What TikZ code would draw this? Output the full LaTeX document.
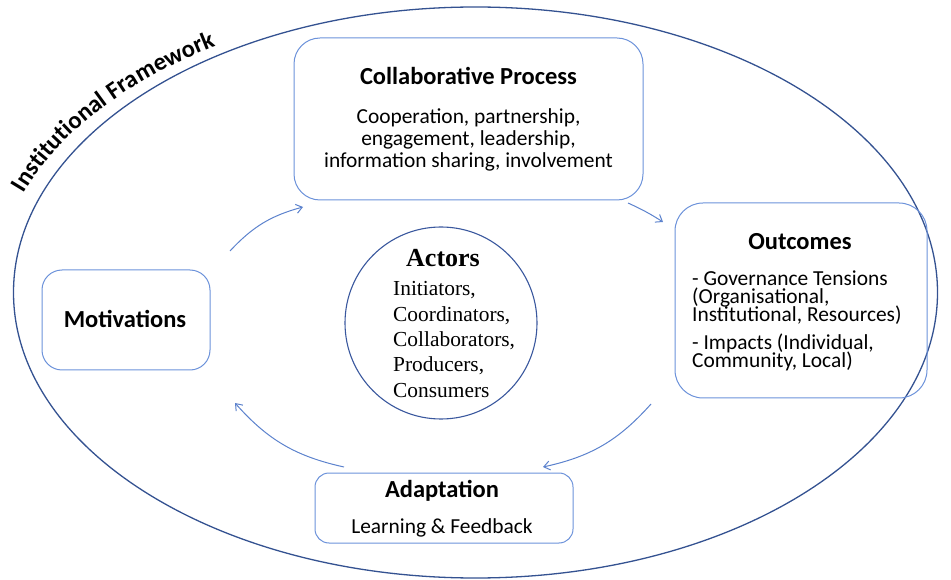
\documentclass[tikz,border=0pt]{standalone}
\usepackage{fontspec}
\setmainfont{Carlito}
\newfontfamily\serifface{Liberation Serif}
\usetikzlibrary{arrows.meta,decorations.text}
\newcommand\tightlines{\lineskiplimit=-30pt\relax}
\definecolor{framecol}{RGB}{52,82,145}
\definecolor{boxcol}{RGB}{108,146,218}
\definecolor{arrowcol}{RGB}{92,130,205}
\definecolor{circcol}{RGB}{58,88,158}
\tikzset{
  stagebox/.style={draw=boxcol, line width=1pt, rectangle, inner sep=0pt},
  titletext/.style={font=\fontsize{24.5}{26}\selectfont\bfseries, inner sep=0pt, anchor=base},
  bodytext/.style={font=\fontsize{21.4}{22}\selectfont, inner sep=0pt, align=center},
  flow/.style={draw=arrowcol, line width=1pt, -{Straight Barb[length=6pt,width=9pt]}},
}
\begin{document}
\begin{tikzpicture}[x=1pt,y=1pt]
\useasboundingbox (0,0) rectangle (951,579);

% outer institutional frame
\draw[framecol, line width=1.3pt] (475.5,286.5) ellipse [x radius=462, y radius=285.5];
\path[decorate, decoration={text along path, text align=center,
  text={|\fontsize{24.5}{26}\selectfont\bfseries|Institutional Framework}}]
  (475.5,286.5) ++(165.5:480 and 293) arc [start angle=165.5, end angle=119, x radius=480, y radius=293];

% collaborative process
\node[stagebox, rounded corners=26pt, minimum width=349pt, minimum height=162pt] (collab) at (468.5,460) {};
\node[titletext] (collabT) at (468.5,494) {Collaborative Process};
\node[bodytext] (collabB) at (468.5,439) {Cooperation, partnership,\\engagement, leadership,\\information sharing, involvement};

% outcomes
\node[stagebox, rounded corners=28pt, minimum width=252pt, minimum height=195pt] (outc) at (801,278.5) {};
\node[titletext] (outcT) at (800,329) {Outcomes};
\node[bodytext, align=left, anchor=west, font=\fontsize{21.4}{18.3}\selectfont\tightlines] (outcB) at (692,258)
  {- Governance Tensions\\(Organisational,\\Institutional, Resources)\\[9.5pt]- Impacts (Individual,\\Community, Local)};

% actors
\node[draw=circcol, line width=1.1pt, circle, minimum size=192pt, inner sep=0pt] (actors) at (441,256) {};
\node[inner sep=0pt, anchor=base, font=\serifface\fontsize{26}{28}\selectfont\bfseries] (actT) at (443,312) {Actors};
\node[inner sep=0pt, anchor=west, align=left, font=\serifface\fontsize{21.4}{25.3}\selectfont] (actB) at (393,239.5)
  {Initiators,\\Coordinators,\\Collaborators,\\Producers,\\Consumers};

% motivations
\node[stagebox, rounded corners=20pt, minimum width=168pt, minimum height=100pt] (motiv) at (126,259) {};
\node[font=\fontsize{24.5}{26}\selectfont\bfseries, inner sep=0pt] (motivT) at (125,260) {Motivations};

% adaptation
\node[stagebox, rounded corners=14pt, minimum width=258pt, minimum height=70pt] (adapt) at (444,71) {};
\node[titletext] (adaptT) at (442,82) {Adaptation};
\node[bodytext, anchor=base] (adaptB) at (442,46) {Learning \& Feedback};

% cycle arrows
\coordinate (m1) at (230,328);
\coordinate (m2) at (303,372);
\coordinate (c1) at (628,376);
\coordinate (c2) at (663,357);
\coordinate (o1) at (651,175);
\coordinate (o2) at (543,112);
\coordinate (a1) at (344,112);
\coordinate (a2) at (235,176);
\draw[flow] (m1) to[bend left=16] (m2);
\draw[flow] (c1) to[bend left=4] (c2);
\draw[flow] (o1) to[bend left=18] (o2);
\draw[flow] (a1) to[bend left=18] (a2);
\end{tikzpicture}
\end{document}
